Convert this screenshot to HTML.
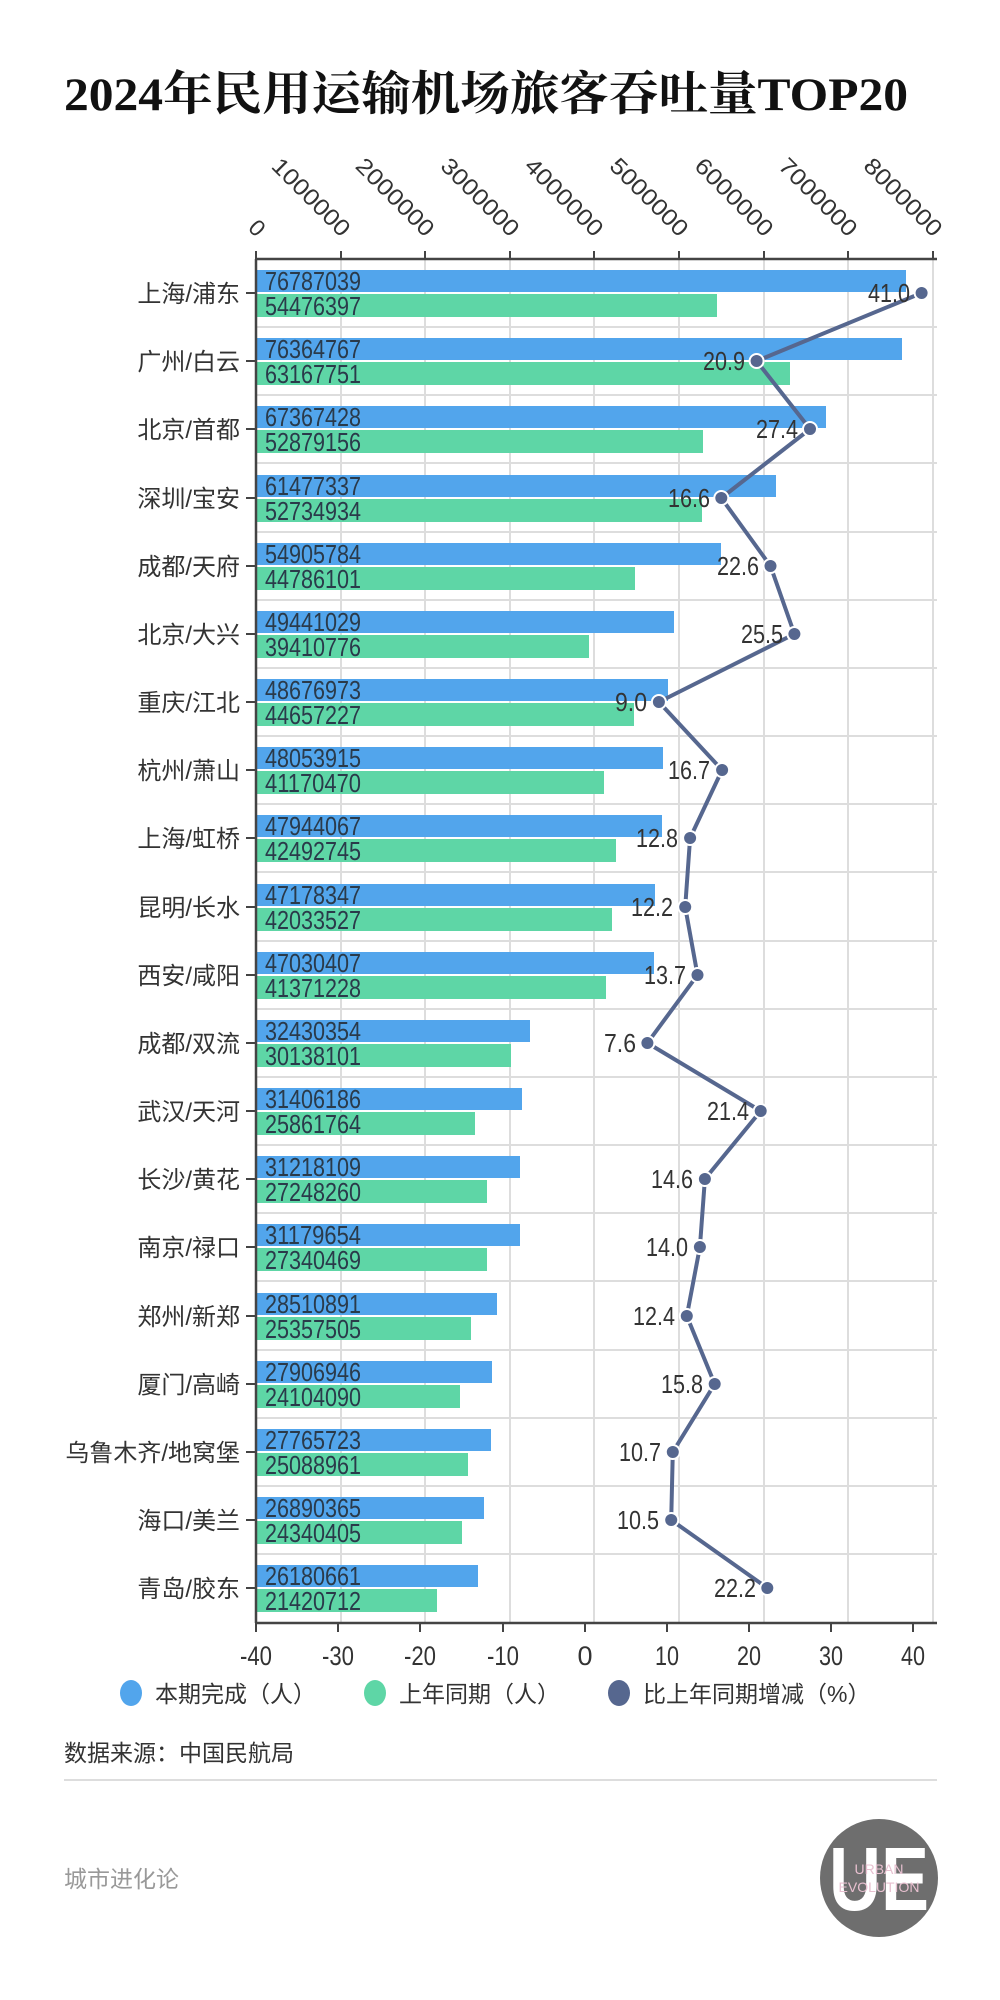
<!DOCTYPE html>
<html><head><meta charset="utf-8"><style>
html,body{margin:0;padding:0;background:#fff;}
svg{display:block;}
</style></head><body>
<svg width="1000" height="2000" viewBox="0 0 1000 2000" xmlns="http://www.w3.org/2000/svg">
<text x="64" y="110" font-family="'Liberation Serif','Noto Serif CJK SC',serif" font-weight="bold" font-size="47" fill="#111" textLength="844" lengthAdjust="spacingAndGlyphs">2024年民用运输机场旅客吞吐量TOP20</text>

<g font-family="'Liberation Sans','Noto Sans CJK SC',sans-serif" fill="#333" font-size="23">
<text transform="translate(256,238) rotate(45)" text-anchor="end">0</text>
<text transform="translate(341,238) rotate(45)" text-anchor="end" textLength="100" lengthAdjust="spacingAndGlyphs">1000000</text>
<text transform="translate(425,238) rotate(45)" text-anchor="end" textLength="100" lengthAdjust="spacingAndGlyphs">2000000</text>
<text transform="translate(510,238) rotate(45)" text-anchor="end" textLength="100" lengthAdjust="spacingAndGlyphs">3000000</text>
<text transform="translate(594,238) rotate(45)" text-anchor="end" textLength="100" lengthAdjust="spacingAndGlyphs">4000000</text>
<text transform="translate(679,238) rotate(45)" text-anchor="end" textLength="100" lengthAdjust="spacingAndGlyphs">5000000</text>
<text transform="translate(764,238) rotate(45)" text-anchor="end" textLength="100" lengthAdjust="spacingAndGlyphs">6000000</text>
<text transform="translate(848,238) rotate(45)" text-anchor="end" textLength="100" lengthAdjust="spacingAndGlyphs">7000000</text>
<text transform="translate(933,238) rotate(45)" text-anchor="end" textLength="100" lengthAdjust="spacingAndGlyphs">8000000</text>
</g>

<g stroke="#ddd" stroke-width="2">
<line x1="341" y1="259" x2="341" y2="1622"/><line x1="425" y1="259" x2="425" y2="1622"/>
<line x1="510" y1="259" x2="510" y2="1622"/><line x1="594" y1="259" x2="594" y2="1622"/>
<line x1="679" y1="259" x2="679" y2="1622"/><line x1="764" y1="259" x2="764" y2="1622"/>
<line x1="848" y1="259" x2="848" y2="1622"/><line x1="933" y1="259" x2="933" y2="1622"/>
<line x1="256" y1="327" x2="937" y2="327"/><line x1="256" y1="395" x2="937" y2="395"/>
<line x1="256" y1="463" x2="937" y2="463"/><line x1="256" y1="532" x2="937" y2="532"/>
<line x1="256" y1="600" x2="937" y2="600"/><line x1="256" y1="668" x2="937" y2="668"/>
<line x1="256" y1="736" x2="937" y2="736"/><line x1="256" y1="804" x2="937" y2="804"/>
<line x1="256" y1="872" x2="937" y2="872"/><line x1="256" y1="941" x2="937" y2="941"/>
<line x1="256" y1="1009" x2="937" y2="1009"/><line x1="256" y1="1077" x2="937" y2="1077"/>
<line x1="256" y1="1145" x2="937" y2="1145"/><line x1="256" y1="1213" x2="937" y2="1213"/>
<line x1="256" y1="1281" x2="937" y2="1281"/><line x1="256" y1="1350" x2="937" y2="1350"/>
<line x1="256" y1="1418" x2="937" y2="1418"/><line x1="256" y1="1486" x2="937" y2="1486"/>
<line x1="256" y1="1554" x2="937" y2="1554"/>
</g>

<g>
<rect x="256" y="270" width="650" height="22" fill="#52a5ec"/><rect x="256" y="294" width="461" height="23" fill="#5ed6a6"/>
<rect x="256" y="338" width="646" height="22" fill="#52a5ec"/><rect x="256" y="362" width="534" height="23" fill="#5ed6a6"/>
<rect x="256" y="406" width="570" height="22" fill="#52a5ec"/><rect x="256" y="430" width="447" height="23" fill="#5ed6a6"/>
<rect x="256" y="475" width="520" height="22" fill="#52a5ec"/><rect x="256" y="499" width="446" height="23" fill="#5ed6a6"/>
<rect x="256" y="543" width="465" height="22" fill="#52a5ec"/><rect x="256" y="567" width="379" height="23" fill="#5ed6a6"/>
<rect x="256" y="611" width="418" height="22" fill="#52a5ec"/><rect x="256" y="635" width="333" height="23" fill="#5ed6a6"/>
<rect x="256" y="679" width="412" height="22" fill="#52a5ec"/><rect x="256" y="703" width="378" height="23" fill="#5ed6a6"/>
<rect x="256" y="747" width="407" height="22" fill="#52a5ec"/><rect x="256" y="771" width="348" height="23" fill="#5ed6a6"/>
<rect x="256" y="815" width="406" height="22" fill="#52a5ec"/><rect x="256" y="839" width="360" height="23" fill="#5ed6a6"/>
<rect x="256" y="884" width="399" height="22" fill="#52a5ec"/><rect x="256" y="908" width="356" height="23" fill="#5ed6a6"/>
<rect x="256" y="952" width="398" height="22" fill="#52a5ec"/><rect x="256" y="976" width="350" height="23" fill="#5ed6a6"/>
<rect x="256" y="1020" width="274" height="22" fill="#52a5ec"/><rect x="256" y="1044" width="255" height="23" fill="#5ed6a6"/>
<rect x="256" y="1088" width="266" height="22" fill="#52a5ec"/><rect x="256" y="1112" width="219" height="23" fill="#5ed6a6"/>
<rect x="256" y="1156" width="264" height="22" fill="#52a5ec"/><rect x="256" y="1180" width="231" height="23" fill="#5ed6a6"/>
<rect x="256" y="1224" width="264" height="22" fill="#52a5ec"/><rect x="256" y="1248" width="231" height="23" fill="#5ed6a6"/>
<rect x="256" y="1293" width="241" height="22" fill="#52a5ec"/><rect x="256" y="1317" width="215" height="23" fill="#5ed6a6"/>
<rect x="256" y="1361" width="236" height="22" fill="#52a5ec"/><rect x="256" y="1385" width="204" height="23" fill="#5ed6a6"/>
<rect x="256" y="1429" width="235" height="22" fill="#52a5ec"/><rect x="256" y="1453" width="212" height="23" fill="#5ed6a6"/>
<rect x="256" y="1497" width="228" height="22" fill="#52a5ec"/><rect x="256" y="1521" width="206" height="23" fill="#5ed6a6"/>
<rect x="256" y="1565" width="222" height="22" fill="#52a5ec"/><rect x="256" y="1589" width="181" height="23" fill="#5ed6a6"/>
</g>

<g stroke="#444" stroke-width="2.5">
<line x1="256" y1="259" x2="937" y2="259"/>
<line x1="256" y1="259" x2="256" y2="1623"/>
<line x1="256" y1="1623" x2="937" y2="1623"/>
</g>
<g stroke="#444" stroke-width="2">
<line x1="256" y1="251" x2="256" y2="259"/><line x1="341" y1="251" x2="341" y2="259"/><line x1="425" y1="251" x2="425" y2="259"/><line x1="510" y1="251" x2="510" y2="259"/><line x1="594" y1="251" x2="594" y2="259"/><line x1="679" y1="251" x2="679" y2="259"/><line x1="764" y1="251" x2="764" y2="259"/><line x1="848" y1="251" x2="848" y2="259"/><line x1="933" y1="251" x2="933" y2="259"/>
<line x1="256" y1="1623" x2="256" y2="1632"/><line x1="338" y1="1623" x2="338" y2="1632"/><line x1="420" y1="1623" x2="420" y2="1632"/><line x1="503" y1="1623" x2="503" y2="1632"/><line x1="585" y1="1623" x2="585" y2="1632"/><line x1="667" y1="1623" x2="667" y2="1632"/><line x1="749" y1="1623" x2="749" y2="1632"/><line x1="831" y1="1623" x2="831" y2="1632"/><line x1="913" y1="1623" x2="913" y2="1632"/>
</g>
<g stroke="#444" stroke-width="2">
<line x1="246" y1="293" x2="256" y2="293"/><line x1="246" y1="361" x2="256" y2="361"/><line x1="246" y1="429" x2="256" y2="429"/><line x1="246" y1="498" x2="256" y2="498"/><line x1="246" y1="566" x2="256" y2="566"/><line x1="246" y1="634" x2="256" y2="634"/><line x1="246" y1="702" x2="256" y2="702"/><line x1="246" y1="770" x2="256" y2="770"/><line x1="246" y1="838" x2="256" y2="838"/><line x1="246" y1="907" x2="256" y2="907"/><line x1="246" y1="975" x2="256" y2="975"/><line x1="246" y1="1043" x2="256" y2="1043"/><line x1="246" y1="1111" x2="256" y2="1111"/><line x1="246" y1="1179" x2="256" y2="1179"/><line x1="246" y1="1247" x2="256" y2="1247"/><line x1="246" y1="1316" x2="256" y2="1316"/><line x1="246" y1="1384" x2="256" y2="1384"/><line x1="246" y1="1452" x2="256" y2="1452"/><line x1="246" y1="1520" x2="256" y2="1520"/><line x1="246" y1="1588" x2="256" y2="1588"/>
</g>

<g font-family="'Liberation Sans','Noto Sans CJK SC',sans-serif" font-size="24" fill="#333" text-anchor="end">
<text x="240" y="302">上海/浦东</text><text x="240" y="370">广州/白云</text><text x="240" y="438">北京/首都</text><text x="240" y="507">深圳/宝安</text><text x="240" y="575">成都/天府</text><text x="240" y="643">北京/大兴</text><text x="240" y="711">重庆/江北</text><text x="240" y="779">杭州/萧山</text><text x="240" y="847">上海/虹桥</text><text x="240" y="916">昆明/长水</text><text x="240" y="984">西安/咸阳</text><text x="240" y="1052">成都/双流</text><text x="240" y="1120">武汉/天河</text><text x="240" y="1188">长沙/黄花</text><text x="240" y="1256">南京/禄口</text><text x="240" y="1325">郑州/新郑</text><text x="240" y="1393">厦门/高崎</text><text x="240" y="1461">乌鲁木齐/地窝堡</text><text x="240" y="1529">海口/美兰</text><text x="240" y="1597">青岛/胶东</text>
</g>

<g font-family="'Liberation Sans',sans-serif" font-size="26" fill="#2a3a4a">
<text x="265" y="290" textLength="96" lengthAdjust="spacingAndGlyphs">76787039</text><text x="265" y="315" textLength="96" lengthAdjust="spacingAndGlyphs">54476397</text>
<text x="265" y="358" textLength="96" lengthAdjust="spacingAndGlyphs">76364767</text><text x="265" y="383" textLength="96" lengthAdjust="spacingAndGlyphs">63167751</text>
<text x="265" y="426" textLength="96" lengthAdjust="spacingAndGlyphs">67367428</text><text x="265" y="451" textLength="96" lengthAdjust="spacingAndGlyphs">52879156</text>
<text x="265" y="495" textLength="96" lengthAdjust="spacingAndGlyphs">61477337</text><text x="265" y="520" textLength="96" lengthAdjust="spacingAndGlyphs">52734934</text>
<text x="265" y="563" textLength="96" lengthAdjust="spacingAndGlyphs">54905784</text><text x="265" y="588" textLength="96" lengthAdjust="spacingAndGlyphs">44786101</text>
<text x="265" y="631" textLength="96" lengthAdjust="spacingAndGlyphs">49441029</text><text x="265" y="656" textLength="96" lengthAdjust="spacingAndGlyphs">39410776</text>
<text x="265" y="699" textLength="96" lengthAdjust="spacingAndGlyphs">48676973</text><text x="265" y="724" textLength="96" lengthAdjust="spacingAndGlyphs">44657227</text>
<text x="265" y="767" textLength="96" lengthAdjust="spacingAndGlyphs">48053915</text><text x="265" y="792" textLength="96" lengthAdjust="spacingAndGlyphs">41170470</text>
<text x="265" y="835" textLength="96" lengthAdjust="spacingAndGlyphs">47944067</text><text x="265" y="860" textLength="96" lengthAdjust="spacingAndGlyphs">42492745</text>
<text x="265" y="904" textLength="96" lengthAdjust="spacingAndGlyphs">47178347</text><text x="265" y="929" textLength="96" lengthAdjust="spacingAndGlyphs">42033527</text>
<text x="265" y="972" textLength="96" lengthAdjust="spacingAndGlyphs">47030407</text><text x="265" y="997" textLength="96" lengthAdjust="spacingAndGlyphs">41371228</text>
<text x="265" y="1040" textLength="96" lengthAdjust="spacingAndGlyphs">32430354</text><text x="265" y="1065" textLength="96" lengthAdjust="spacingAndGlyphs">30138101</text>
<text x="265" y="1108" textLength="96" lengthAdjust="spacingAndGlyphs">31406186</text><text x="265" y="1133" textLength="96" lengthAdjust="spacingAndGlyphs">25861764</text>
<text x="265" y="1176" textLength="96" lengthAdjust="spacingAndGlyphs">31218109</text><text x="265" y="1201" textLength="96" lengthAdjust="spacingAndGlyphs">27248260</text>
<text x="265" y="1244" textLength="96" lengthAdjust="spacingAndGlyphs">31179654</text><text x="265" y="1269" textLength="96" lengthAdjust="spacingAndGlyphs">27340469</text>
<text x="265" y="1313" textLength="96" lengthAdjust="spacingAndGlyphs">28510891</text><text x="265" y="1338" textLength="96" lengthAdjust="spacingAndGlyphs">25357505</text>
<text x="265" y="1381" textLength="96" lengthAdjust="spacingAndGlyphs">27906946</text><text x="265" y="1406" textLength="96" lengthAdjust="spacingAndGlyphs">24104090</text>
<text x="265" y="1449" textLength="96" lengthAdjust="spacingAndGlyphs">27765723</text><text x="265" y="1474" textLength="96" lengthAdjust="spacingAndGlyphs">25088961</text>
<text x="265" y="1517" textLength="96" lengthAdjust="spacingAndGlyphs">26890365</text><text x="265" y="1542" textLength="96" lengthAdjust="spacingAndGlyphs">24340405</text>
<text x="265" y="1585" textLength="96" lengthAdjust="spacingAndGlyphs">26180661</text><text x="265" y="1610" textLength="96" lengthAdjust="spacingAndGlyphs">21420712</text>
</g>

<polyline fill="none" stroke="#56678f" stroke-width="4" stroke-linejoin="round" points="921.6,293 756.6,361 810,429 721.3,498 770.5,566 794.4,634 658.9,702 722.1,770 690.1,838 685.2,907 697.5,975 647.4,1043 760.7,1111 704.9,1179 699.9,1247 686.8,1316 714.7,1384 672.8,1452 671.2,1520 767.3,1588"/>
<g fill="#56678f" stroke="#fff" stroke-width="2">
<circle cx="921.6" cy="293" r="7"/><circle cx="756.6" cy="361" r="7"/><circle cx="810" cy="429" r="7"/><circle cx="721.3" cy="498" r="7"/><circle cx="770.5" cy="566" r="7"/><circle cx="794.4" cy="634" r="7"/><circle cx="658.9" cy="702" r="7"/><circle cx="722.1" cy="770" r="7"/><circle cx="690.1" cy="838" r="7"/><circle cx="685.2" cy="907" r="7"/><circle cx="697.5" cy="975" r="7"/><circle cx="647.4" cy="1043" r="7"/><circle cx="760.7" cy="1111" r="7"/><circle cx="704.9" cy="1179" r="7"/><circle cx="699.9" cy="1247" r="7"/><circle cx="686.8" cy="1316" r="7"/><circle cx="714.7" cy="1384" r="7"/><circle cx="672.8" cy="1452" r="7"/><circle cx="671.2" cy="1520" r="7"/><circle cx="767.3" cy="1588" r="7"/>
</g>
<g font-family="'Liberation Sans',sans-serif" font-size="26" fill="#333" text-anchor="end">
<text x="910" y="302" textLength="42" lengthAdjust="spacingAndGlyphs">41.0</text><text x="745" y="370" textLength="42" lengthAdjust="spacingAndGlyphs">20.9</text><text x="798" y="438" textLength="42" lengthAdjust="spacingAndGlyphs">27.4</text><text x="710" y="507" textLength="42" lengthAdjust="spacingAndGlyphs">16.6</text><text x="759" y="575" textLength="42" lengthAdjust="spacingAndGlyphs">22.6</text><text x="783" y="643" textLength="42" lengthAdjust="spacingAndGlyphs">25.5</text><text x="647" y="711" textLength="32" lengthAdjust="spacingAndGlyphs">9.0</text><text x="710" y="779" textLength="42" lengthAdjust="spacingAndGlyphs">16.7</text><text x="678" y="847" textLength="42" lengthAdjust="spacingAndGlyphs">12.8</text><text x="673" y="916" textLength="42" lengthAdjust="spacingAndGlyphs">12.2</text><text x="686" y="984" textLength="42" lengthAdjust="spacingAndGlyphs">13.7</text><text x="636" y="1052" textLength="32" lengthAdjust="spacingAndGlyphs">7.6</text><text x="749" y="1120" textLength="42" lengthAdjust="spacingAndGlyphs">21.4</text><text x="693" y="1188" textLength="42" lengthAdjust="spacingAndGlyphs">14.6</text><text x="688" y="1256" textLength="42" lengthAdjust="spacingAndGlyphs">14.0</text><text x="675" y="1325" textLength="42" lengthAdjust="spacingAndGlyphs">12.4</text><text x="703" y="1393" textLength="42" lengthAdjust="spacingAndGlyphs">15.8</text><text x="661" y="1461" textLength="42" lengthAdjust="spacingAndGlyphs">10.7</text><text x="659" y="1529" textLength="42" lengthAdjust="spacingAndGlyphs">10.5</text><text x="756" y="1597" textLength="42" lengthAdjust="spacingAndGlyphs">22.2</text>
</g>

<g font-family="'Liberation Sans',sans-serif" font-size="27" fill="#333" text-anchor="middle">
<text x="256" y="1665" textLength="32" lengthAdjust="spacingAndGlyphs">-40</text><text x="338" y="1665" textLength="32" lengthAdjust="spacingAndGlyphs">-30</text><text x="420" y="1665" textLength="32" lengthAdjust="spacingAndGlyphs">-20</text><text x="503" y="1665" textLength="32" lengthAdjust="spacingAndGlyphs">-10</text><text x="585" y="1665">0</text><text x="667" y="1665" textLength="24" lengthAdjust="spacingAndGlyphs">10</text><text x="749" y="1665" textLength="24" lengthAdjust="spacingAndGlyphs">20</text><text x="831" y="1665" textLength="24" lengthAdjust="spacingAndGlyphs">30</text><text x="913" y="1665" textLength="24" lengthAdjust="spacingAndGlyphs">40</text>
</g>

<ellipse cx="131" cy="1693" rx="11" ry="13" fill="#52a5ec"/>
<ellipse cx="375" cy="1693" rx="11" ry="13" fill="#5ed6a6"/>
<ellipse cx="619" cy="1693" rx="11" ry="13" fill="#56678f"/>
<g font-family="'Liberation Sans','Noto Sans CJK SC',sans-serif" font-size="23" fill="#333">
<text x="155" y="1702">本期完成（人）</text>
<text x="399" y="1702">上年同期（人）</text>
<text x="643" y="1702">比上年同期增减（%）</text>
<text x="64" y="1761" font-size="23">数据来源：中国民航局</text>
<text x="64" y="1887" font-size="23" fill="#999">城市进化论</text>
</g>
<line x1="64" y1="1780" x2="937" y2="1780" stroke="#ddd" stroke-width="2"/>

<circle cx="879" cy="1878" r="59" fill="#6e6e6e"/>
<text x="879" y="1910" text-anchor="middle" font-family="'Liberation Sans',sans-serif" font-weight="bold" font-size="90" fill="#fff" textLength="100" lengthAdjust="spacingAndGlyphs">UE</text>
<text x="879" y="1874" text-anchor="middle" font-family="'Liberation Sans',sans-serif" font-size="14" fill="#e8c0d0">URBAN</text>
<text x="879" y="1892" text-anchor="middle" font-family="'Liberation Sans',sans-serif" font-size="14" fill="#e8c0d0">EVOLUTION</text>
</svg>
</body></html>
